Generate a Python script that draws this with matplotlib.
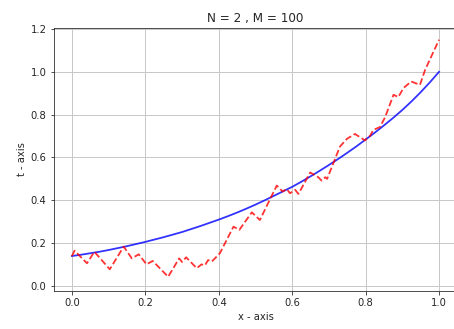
import matplotlib
matplotlib.use("Agg")
import matplotlib.pyplot as plt

# Blue smooth curve
curve_x = [0.000, 0.025, 0.050, 0.075, 0.100, 0.125, 0.150, 0.175, 0.200, 0.225,
           0.250, 0.275, 0.300, 0.325, 0.350, 0.375, 0.400, 0.425, 0.450, 0.475,
           0.500, 0.525, 0.550, 0.575, 0.600, 0.625, 0.650, 0.675, 0.700, 0.725,
           0.750, 0.775, 0.800, 0.825, 0.850, 0.875, 0.900, 0.925, 0.950, 0.975,
           1.000]
curve_y = [0.140, 0.146, 0.153, 0.160, 0.168, 0.177, 0.186, 0.196, 0.206, 0.217,
           0.228, 0.240, 0.252, 0.266, 0.280, 0.295, 0.310, 0.326, 0.343, 0.361,
           0.380, 0.400, 0.421, 0.442, 0.463, 0.487, 0.512, 0.538, 0.565, 0.593,
           0.622, 0.652, 0.684, 0.716, 0.750, 0.785, 0.822, 0.862, 0.905, 0.951,
           1.000]

# Red dashed noisy series (vertices)
noisy_x = [0.000, 0.007, 0.041, 0.061, 0.103, 0.141, 0.163, 0.182, 0.203, 0.220,
           0.262, 0.292, 0.300, 0.311, 0.340, 0.353, 0.362, 0.371, 0.381, 0.403,
           0.440, 0.456, 0.490, 0.512, 0.540, 0.558, 0.574, 0.585, 0.594, 0.608,
           0.617, 0.649, 0.671, 0.680, 0.690, 0.695, 0.712, 0.730, 0.749, 0.771,
           0.798, 0.812, 0.821, 0.839, 0.853, 0.876, 0.889, 0.903, 0.924, 0.948,
           0.962, 1.000]
noisy_y = [0.140, 0.165, 0.106, 0.160, 0.078, 0.184, 0.129, 0.148, 0.101, 0.117,
           0.043, 0.129, 0.112, 0.134, 0.083, 0.101, 0.096, 0.121, 0.114, 0.153,
           0.277, 0.262, 0.344, 0.308, 0.407, 0.469, 0.441, 0.453, 0.433, 0.449,
           0.430, 0.530, 0.508, 0.492, 0.508, 0.500, 0.573, 0.651, 0.687, 0.710,
           0.680, 0.701, 0.729, 0.742, 0.788, 0.893, 0.882, 0.924, 0.955, 0.939,
           1.009, 1.150]

x_ticks = [0.0, 0.2, 0.4, 0.6, 0.8, 1.0]
y_ticks = [0.0, 0.2, 0.4, 0.6, 0.8, 1.0, 1.2]

fig = plt.figure(figsize=(454 / 72, 329 / 72), dpi=72)
ax = fig.add_axes([53.6 / 454, 38 / 329, 403.8 / 454, 263 / 329])

ax.plot(curve_x, curve_y, color="#0000ff", alpha=0.8, lw=1.8, zorder=3)
ax.plot(noisy_x, noisy_y, color="#ff0000", alpha=0.8, lw=1.8, ls="--", zorder=3)

ax.set_xlim(-0.05, 1.05)
ax.set_ylim(-0.0234, 1.2047)
ax.set_xticks(x_ticks)
ax.set_yticks(y_ticks)
ax.set_xticklabels([f"{v:.1f}" for v in x_ticks])
ax.set_yticklabels([f"{v:.1f}" for v in y_ticks])
ax.grid(True, color="#c8c8c8", lw=1.0)
ax.set_axisbelow(True)
ax.tick_params(colors="#262626", labelsize=10)
for s in ax.spines.values():
    s.set_color("#262626")
ax.set_title("N = 2 , M = 100", fontsize=12, color="#262626")
ax.set_xlabel("x - axis", fontsize=10, color="#262626")
ax.set_ylabel("t - axis", fontsize=10, color="#262626")

fig.savefig("out.png", dpi=72)
